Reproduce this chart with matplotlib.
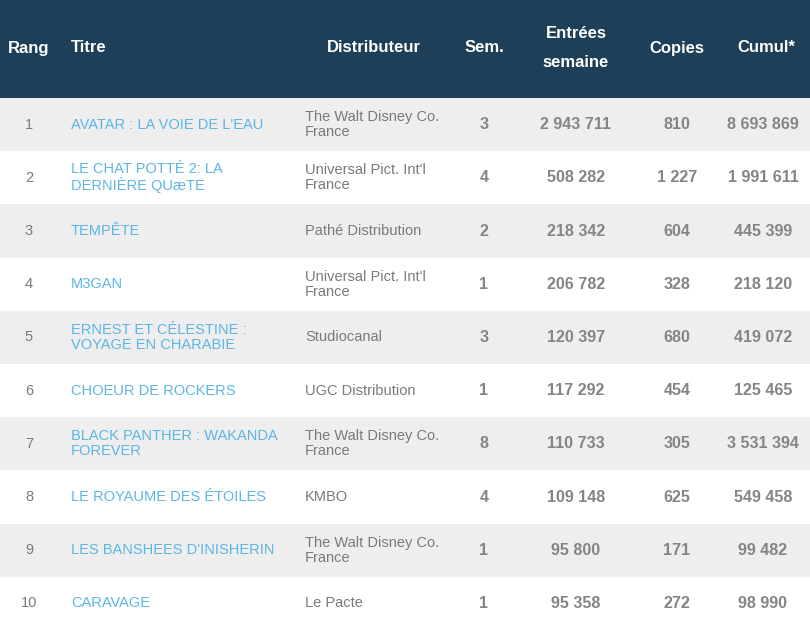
import matplotlib
matplotlib.use("Agg")
import matplotlib.pyplot as plt
from matplotlib.patches import Rectangle

plt.rcParams['font.family'] = ['Liberation Sans', 'DejaVu Sans']

headers = ["Rang", "Titre", "Distributeur", "Sem.", "Entrées\nsemaine", "Copies", "Cumul*"]
ranks = ["1", "2", "3", "4", "5", "6", "7", "8", "9", "10"]
titles = ["AVATAR : LA VOIE DE L'EAU", "LE CHAT POTTÉ 2: LA\nDERNIÈRE QUæTE", "TEMPÊTE", "M3GAN",
          "ERNEST ET CÉLESTINE :\nVOYAGE EN CHARABIE", "CHOEUR DE ROCKERS",
          "BLACK PANTHER : WAKANDA\nFOREVER", "LE ROYAUME DES ÉTOILES",
          "LES BANSHEES D'INISHERIN", "CARAVAGE"]
distributors = ["The Walt Disney Co.\nFrance", "Universal Pict. Int'l\nFrance", "Pathé Distribution",
                "Universal Pict. Int'l\nFrance", "Studiocanal", "UGC Distribution",
                "The Walt Disney Co.\nFrance", "KMBO", "The Walt Disney Co.\nFrance", "Le Pacte"]
weeks = ["3", "4", "2", "1", "3", "1", "8", "4", "1", "1"]
entries = ["2 943 711", "508 282", "218 342", "206 782", "120 397", "117 292", "110 733",
           "109 148", "95 800", "95 358"]
copies = ["810", "1 227", "604", "328", "680", "454", "305", "625", "171", "272"]
cumul = ["8 693 869", "1 991 611", "445 399", "218 120", "419 072", "125 465", "3 531 394",
         "549 458", "99 482", "98 990"]

W, H = 810, 626
fig = plt.figure(figsize=(W / 100, H / 100), dpi=100)
ax = fig.add_axes([0, 0, 1, 1])
ax.set_xlim(0, W)
ax.set_ylim(H, 0)
ax.axis('off')

header_h = 98
row_h = 53.2
navy = "#1f3f58"
gray_bg = "#eeeeee"
text_gray = "#7a7a7a"
num_gray = "#858585"
blue = "#5cb6e4"

ax.add_patch(Rectangle((0, 0), W, header_h, color=navy, lw=0))

header_x = [29, 71, 374, 484, 576, 677, 766]
header_ha = ["center", "left", "center", "center", "center", "center", "center"]
for hx, ha, txt in zip(header_x, header_ha, headers):
    ax.text(hx, 48, txt, color="white", fontsize=12, fontweight="bold",
            ha=ha, va="center", linespacing=2.15)

for i in range(len(ranks)):
    y0 = header_h + i * row_h
    yc = y0 + row_h / 2
    if i % 2 == 0:
        ax.add_patch(Rectangle((0, y0), W, row_h, color=gray_bg, lw=0))
    ax.text(29, yc, ranks[i], color=text_gray, fontsize=10.5, ha="center", va="center")
    ax.text(71, yc, titles[i], color=blue, fontsize=10.5, ha="left", va="center", linespacing=1.08)
    ax.text(305, yc, distributors[i], color=text_gray, fontsize=10.5, ha="left", va="center",
            linespacing=1.08)
    ax.text(484, yc, weeks[i], color=num_gray, fontsize=11.6, fontweight="bold", ha="center", va="center")
    ax.text(576, yc, entries[i], color=num_gray, fontsize=11.6, fontweight="bold", ha="center", va="center")
    ax.text(677, yc, copies[i], color=num_gray, fontsize=11.6, fontweight="bold", ha="center", va="center")
    ax.text(763, yc, cumul[i], color=num_gray, fontsize=11.6, fontweight="bold", ha="center", va="center")

fig.savefig("out.png", dpi=100, facecolor="white")
